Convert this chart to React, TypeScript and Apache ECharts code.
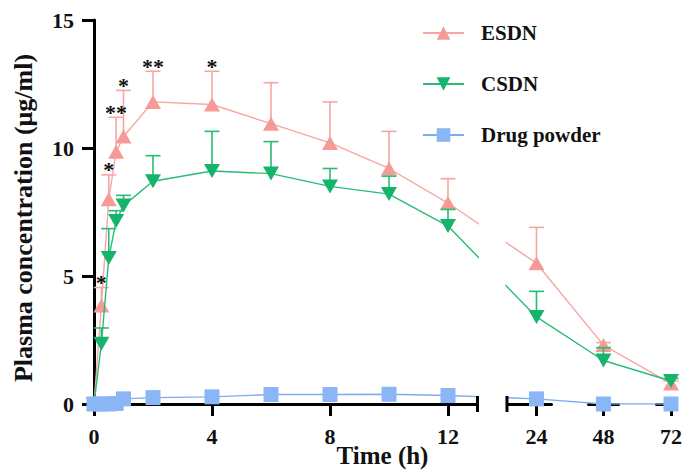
import React, { useEffect, useRef } from "react";
import * as echarts from "echarts";

// ---- data (hours, µg/ml) ----
const times = [0, 0.25, 0.5, 0.75, 1, 2, 4, 6, 8, 10, 12, 24, 48, 72];
const esdnMean = [0, 3.85, 8.0, 9.85, 10.45, 11.8, 11.7, 10.95, 10.2, 9.2, 7.85, 5.5, 2.3, 0.8];
const esdnSD = [0, 0.7, 0.95, 1.35, 1.8, 1.2, 1.3, 1.6, 1.6, 1.45, 0.95, 1.4, 0.1, 0.1];
const csdnMean = [0, 2.35, 5.7, 7.15, 7.75, 8.7, 9.1, 9.0, 8.5, 8.2, 6.95, 3.4, 1.7, 0.9];
const csdnSD = [0, 0.62, 1.15, 0.4, 0.4, 1.0, 1.55, 1.25, 0.7, 0.7, 0.65, 1.0, 0.5, 0.1];
const powderMean = [0, 0, 0, 0.02, 0.2, 0.25, 0.28, 0.37, 0.37, 0.38, 0.33, 0.2, 0, 0];

const sigTimes = [0.25, 0.5, 0.75, 1, 2, 4];
const sigLabels = ["*", "*", "**", "*", "**", "*"];

const xTicks = [0, 4, 8, 12, 24, 48, 72];
const yMin = 0;
const yMax = 15;
const yStep = 5;

// axis break layout (hours)
const breakLeft = 13;
const breakRight = 23;

const names = ["ESDN", "CSDN", "Drug powder"];
const colors = {
  esdn: "#f59a97",
  esdnLine: "#f7a6a3",
  csdn: "#14b46b",
  csdnLine: "#27bd76",
  powder: "#8ab6f6",
  powderLine: "#7eacf2",
};

const FONT = "'Liberation Serif', 'Times New Roman', serif";

function errorBarSeries(mean: number[], sd: number[], color: string, z: number) {
  const data = times
    .map((t, i) => [t, mean[i], mean[i] + sd[i]])
    .filter((d, i) => sd[i] > 0);
  return {
    type: "custom",
    z,
    silent: true,
    clip: false,
    encode: { x: 0, y: [1, 2] },
    data,
    renderItem: (params: any, api: any) => {
      const x = api.value(0);
      const p0 = api.coord([x, api.value(1)]);
      const p1 = api.coord([x, api.value(2)]);
      const hw = 7.5;
      const st = { stroke: color, lineWidth: 1.6 };
      return {
        type: "group",
        children: [
          { type: "line", shape: { x1: p0[0], y1: p0[1], x2: p1[0], y2: p1[1] }, style: st },
          { type: "line", shape: { x1: p1[0] - hw, y1: p1[1], x2: p1[0] + hw, y2: p1[1] }, style: st },
        ],
      };
    },
  };
}

export default function App() {
  const ref = useRef<HTMLDivElement>(null);

  useEffect(() => {
    if (!ref.current) return;
    const chart = echarts.init(ref.current, null, { renderer: "svg" });

    const sigData = sigTimes.map((t, k) => {
      const i = times.indexOf(t);
      return [t, esdnMean[i] + esdnSD[i], sigLabels[k]];
    });

    const option: any = {
      animation: false,
      backgroundColor: "#ffffff",
      textStyle: { fontFamily: FONT },
      grid: { left: 94, right: 12, top: 20, bottom: 66, containLabel: false, outerBoundsMode: "none" },
      legend: {
        orient: "vertical",
        left: 417,
        top: 17,
        z: 100,
        itemWidth: 41,
        itemHeight: 17,
        itemGap: 29,
        data: names,
        textStyle: {
          fontFamily: FONT,
          fontWeight: "bold",
          fontSize: 21,
          color: "#111",
          lineHeight: 22,
          padding: [0, 0, 0, 12],
        },
      },
      xAxis: {
        type: "value",
        min: 0,
        max: 72,
        breaks: [
          { start: breakLeft, end: breakRight, gap: 1.0 },
          { start: 24.5, end: 47.5, gap: 1.27 },
          { start: 48.5, end: 71.5, gap: 1.29 },
        ],
        breakArea: { show: false },
        name: "Time (h)",
        nameLocation: "middle",
        nameGap: 39,
        nameMoveOverlap: false,
        nameTextStyle: { fontFamily: FONT, fontWeight: "bold", fontSize: 25, color: "#111" },
        axisLine: { show: true, lineStyle: { color: "#000", width: 3 } },
        axisTick: { show: true, customValues: xTicks, length: 12, lineStyle: { color: "#000", width: 3 } },
        axisLabel: {
          customValues: xTicks,
          margin: 21,
          fontFamily: FONT,
          fontWeight: "bold",
          fontSize: 22,
          color: "#111",
        },
        splitLine: { show: false },
      },
      yAxis: {
        type: "value",
        min: yMin,
        max: yMax,
        interval: yStep,
        name: "Plasma concentration (μg/ml)",
        nameLocation: "middle",
        nameGap: 58,
        nameMoveOverlap: false,
        nameTextStyle: {
          fontFamily: FONT,
          fontWeight: "bold",
          fontSize: 26,
          color: "#111",
          padding: [0, 12, 0, 0],
        },
        axisLine: { show: true, lineStyle: { color: "#000", width: 3 } },
        axisTick: { show: true, length: 12, lineStyle: { color: "#000", width: 3 } },
        axisLabel: {
          margin: 20,
          fontFamily: FONT,
          fontWeight: "bold",
          fontSize: 22,
          color: "#111",
          padding: [3, 0, 0, 0],
        },
        splitLine: { show: false },
      },
      series: [
        errorBarSeries(esdnMean, esdnSD, colors.esdnLine, 2),
        {
          name: names[0],
          type: "line",
          z: 3,
          data: times.map((t, i) => [t, esdnMean[i]]),
          symbol: "triangle",
          symbolSize: [16, 14],
          itemStyle: { color: colors.esdn },
          lineStyle: { color: colors.esdnLine, width: 1.4 },
        },
        errorBarSeries(csdnMean, csdnSD, colors.csdnLine, 4),
        {
          name: names[1],
          type: "line",
          z: 5,
          data: times.map((t, i) => [t, csdnMean[i]]),
          symbol: "triangle",
          symbolRotate: 180,
          symbolSize: [16, 14],
          itemStyle: { color: colors.csdn },
          lineStyle: { color: colors.csdnLine, width: 1.4 },
        },
        {
          name: names[2],
          type: "line",
          z: 6,
          data: times.map((t, i) => [t, powderMean[i]]),
          symbol: "rect",
          symbolSize: 15,
          itemStyle: { color: colors.powder },
          lineStyle: { color: colors.powderLine, width: 1.4 },
        },
        {
          type: "custom",
          z: 7,
          silent: true,
          clip: false,
          encode: { x: 0, y: 1 },
          data: sigData,
          renderItem: (params: any, api: any) => {
            const p = api.coord([api.value(0), api.value(1)]);
            const label = sigData[params.dataIndex][2] as string;
            return {
              type: "text",
              x: p[0],
              y: p[1] - 5,
              style: {
                text: label,
                fontFamily: FONT,
                fontWeight: "bold",
                fontSize: 22,
                fill: "#111",
                align: "center",
                verticalAlign: "middle",
              },
            };
          },
        },
      ],
    };

    chart.setOption(option);

    const xa = chart.convertToPixel({ xAxisIndex: 0 }, breakLeft) as number;
    const xb = chart.convertToPixel({ xAxisIndex: 0 }, breakRight) as number;
    const y0 = chart.convertToPixel({ yAxisIndex: 0 }, yMin) as number;
    const yTop = chart.convertToPixel({ yAxisIndex: 0 }, yMax) as number;

    chart.setOption({
      graphic: [
        {
          type: "rect",
          z: 50,
          silent: true,
          shape: { x: xa + 1.5, y: yTop - 10, width: xb - xa - 3, height: y0 - yTop + 16 },
          style: { fill: "#ffffff" },
        },
        {
          type: "line",
          z: 51,
          silent: true,
          shape: { x1: xa, y1: y0 - 8, x2: xa, y2: y0 + 8 },
          style: { stroke: "#000", lineWidth: 3 },
        },
        {
          type: "line",
          z: 51,
          silent: true,
          shape: { x1: xb, y1: y0 - 8, x2: xb, y2: y0 + 8 },
          style: { stroke: "#000", lineWidth: 3 },
        },
      ],
    });

    return () => chart.dispose();
  }, []);

  return (
    <div
      ref={ref}
      style={{ position: "fixed", left: 0, top: 0, width: 683, height: 470, background: "#fff" }}
    />
  );
}
